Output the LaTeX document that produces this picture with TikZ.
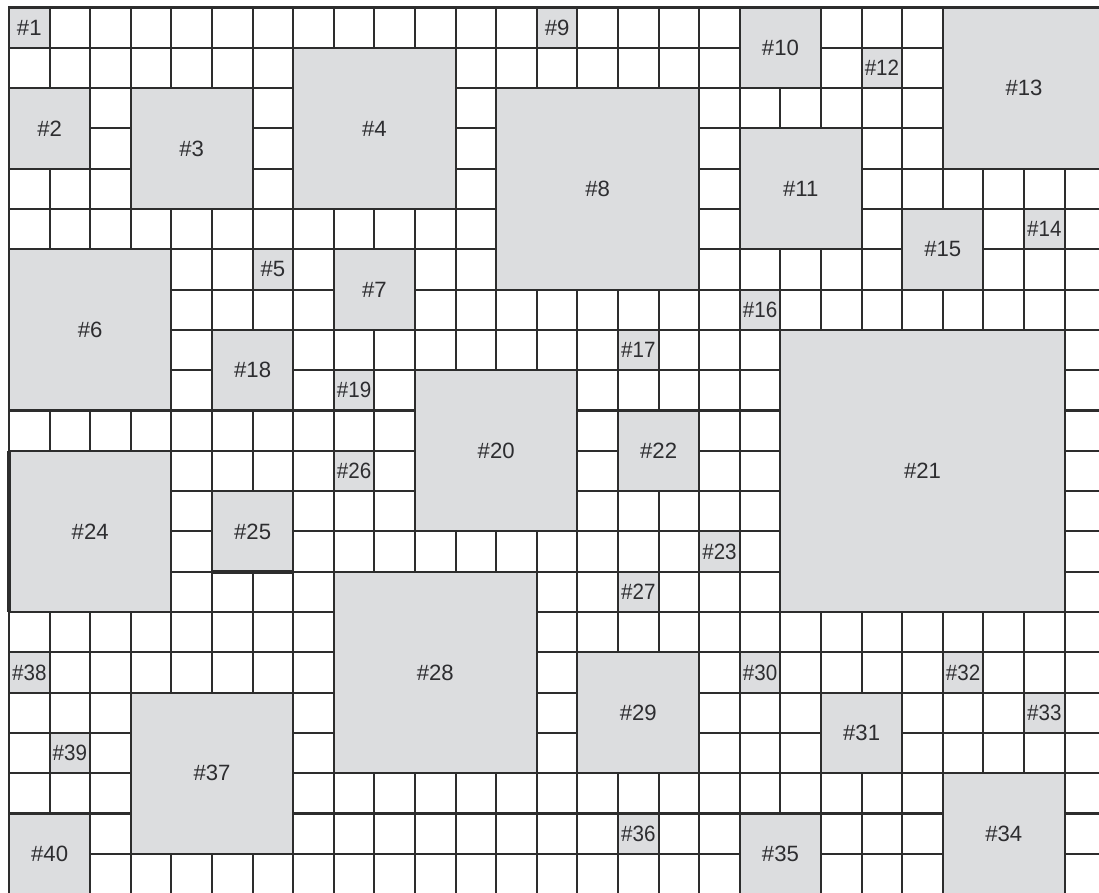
\documentclass[tikz,border=0pt]{standalone}
\usepackage{fontspec}
\setmainfont{Liberation Sans}
\definecolor{blockgray}{RGB}{220,221,223}
\definecolor{linegray}{RGB}{45,45,45}
\definecolor{textgray}{RGB}{45,45,48}
\newcommand{\gblock}[6]{%
  \draw[blockfill] (#1,#2) rectangle ++(#3,#4);
  \node[lbl] (#5) at ({#1+#3/2},{#2+#4/2}) {#6};}
\newcommand{\sblock}[5]{%
  \draw[blockfill] (#1,#2) rectangle ++(1,1);
  \node[lbl] (#3) at ({#1+0.5},{#2+0.5}) {\scalebox{#5}[1]{#4}};}
\begin{document}
\begin{tikzpicture}[x=4.06mm,y=-4.03mm,
  gridline/.style={draw=linegray,line width=0.6pt},
  blockfill/.style={fill=blockgray,draw=linegray,line width=0.6pt},
  thickedge/.style={draw=linegray,line width=1.2pt},
  lbl/.style={font=\fontsize{6.3}{7}\selectfont,text=textgray,inner sep=0pt}]
\useasboundingbox (-0.2217,-0.186) rectangle (26.847,21.948);
\begin{scope}
\clip (-0.2217,-0.186) rectangle (26.847,21.948);
\foreach \i in {0,...,27} \draw[gridline] (\i,0) -- (\i,22);
\foreach \j in {0,...,22} \draw[gridline] (0,\j) -- (27,\j);
\sblock{0}{0}{b1}{\#1}{1}
\gblock{0}{2}{2}{2}{b2}{\#2}
\gblock{3}{2}{3}{3}{b3}{\#3}
\gblock{7}{1}{4}{4}{b4}{\#4}
\sblock{6}{6}{b5}{\#5}{1}
\gblock{0}{6}{4}{4}{b6}{\#6}
\gblock{8}{6}{2}{2}{b7}{\#7}
\gblock{12}{2}{5}{5}{b8}{\#8}
\sblock{13}{0}{b9}{\#9}{1}
\gblock{18}{0}{2}{2}{b10}{\#10}
\gblock{18}{3}{3}{3}{b11}{\#11}
\sblock{21}{1}{b12}{\#12}{0.93}
\gblock{23}{0}{4}{4}{b13}{\#13}
\sblock{25}{5}{b14}{\#14}{0.93}
\gblock{22}{5}{2}{2}{b15}{\#15}
\sblock{18}{7}{b16}{\#16}{0.93}
\sblock{15}{8}{b17}{\#17}{0.93}
\gblock{5}{8}{2}{2}{b18}{\#18}
\sblock{8}{9}{b19}{\#19}{0.93}
\gblock{10}{9}{4}{4}{b20}{\#20}
\gblock{19}{8}{7}{7}{b21}{\#21}
\gblock{15}{10}{2}{2}{b22}{\#22}
\sblock{17}{13}{b23}{\#23}{0.93}
\gblock{0}{11}{4}{4}{b24}{\#24}
\gblock{5}{12}{2}{2}{b25}{\#25}
\sblock{8}{11}{b26}{\#26}{0.93}
\sblock{15}{14}{b27}{\#27}{0.93}
\gblock{8}{14}{5}{5}{b28}{\#28}
\gblock{14}{16}{3}{3}{b29}{\#29}
\sblock{18}{16}{b30}{\#30}{0.93}
\gblock{20}{17}{2}{2}{b31}{\#31}
\sblock{23}{16}{b32}{\#32}{0.93}
\sblock{25}{17}{b33}{\#33}{0.93}
\gblock{23}{19}{3}{3}{b34}{\#34}
\gblock{18}{20}{2}{2}{b35}{\#35}
\sblock{15}{20}{b36}{\#36}{0.93}
\gblock{3}{17}{4}{4}{b37}{\#37}
\sblock{0}{16}{b38}{\#38}{0.93}
\sblock{1}{18}{b39}{\#39}{0.93}
\gblock{0}{20}{2}{2}{b40}{\#40}
\coordinate (e24a) at (0,11);
\coordinate (e24b) at (0,15);
\coordinate (e25a) at (5,14);
\coordinate (e25b) at (7,14);
\draw[thickedge] (e24a) -- (e24b);
\draw[thickedge] (e25a) -- (e25b);
\end{scope}
\end{tikzpicture}
\end{document}
